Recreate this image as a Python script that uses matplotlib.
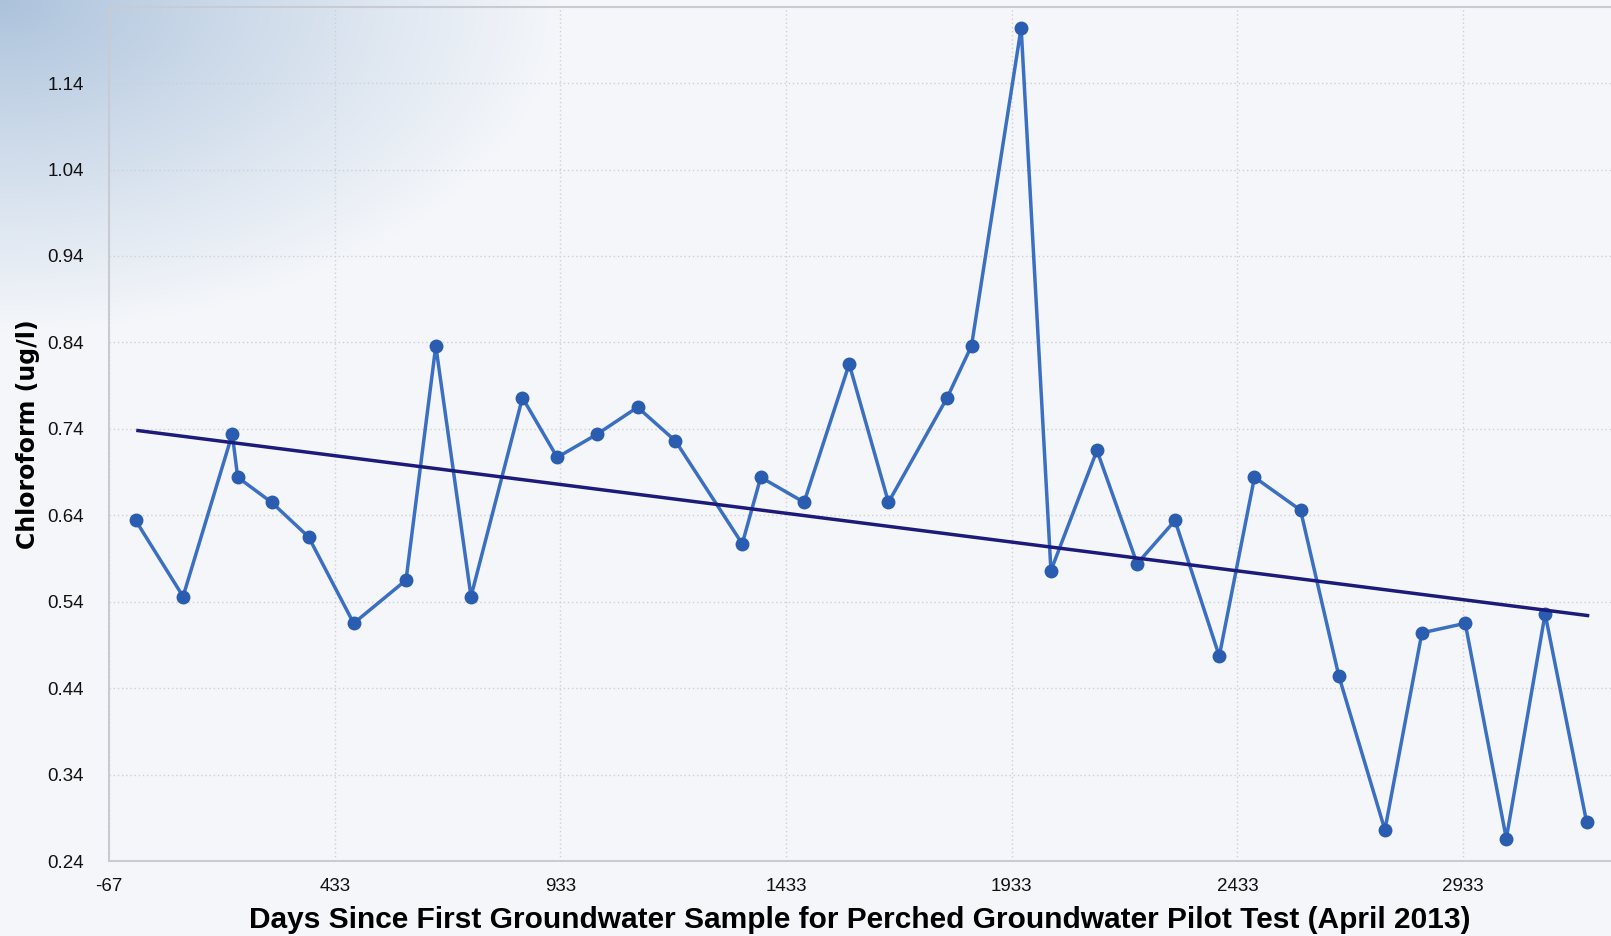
import numpy as np
import matplotlib
matplotlib.use("Agg")
import matplotlib.pyplot as plt

# days since first sample, chloroform concentration (ug/l)
days = [-8, 97, 206, 218, 293, 375, 475, 591, 657, 735, 849, 926, 1015, 1104,
        1188, 1336, 1377, 1473, 1573, 1660, 1790, 1844, 1954, 2020, 2122, 2211,
        2295, 2393, 2471, 2573, 2658, 2760, 2842, 2938, 3029, 3115, 3207]
chloroform = [0.634, 0.546, 0.734, 0.684, 0.655, 0.615, 0.515, 0.565, 0.836,
              0.546, 0.776, 0.707, 0.734, 0.765, 0.726, 0.607, 0.684, 0.655,
              0.815, 0.655, 0.776, 0.836, 1.204, 0.576, 0.715, 0.584, 0.634,
              0.477, 0.684, 0.646, 0.454, 0.276, 0.504, 0.515, 0.266, 0.526,
              0.285]
trend_days = [-3, 3209]
trend_vals = [0.738, 0.524]
xticks = [-67, 433, 933, 1433, 1933, 2433, 2933]
yticks = [0.24, 0.34, 0.44, 0.54, 0.64, 0.74, 0.84, 0.94, 1.04, 1.14]

W, H = 1611, 936
fig = plt.figure(figsize=(W / 100, H / 100), dpi=100)

# background with bluish corner gradient
bg = fig.add_axes([0, 0, 1, 1])
yy, xx = np.mgrid[0:H, 0:W]
d = np.sqrt((xx / 560.0) ** 2 + (yy / 330.0) ** 2)
t = np.clip(d, 0, 1) ** 0.9
c0 = np.array([0.67, 0.76, 0.86])
c1 = np.array([0.957, 0.965, 0.98])
img = c0[None, None, :] * (1 - t[..., None]) + c1[None, None, :] * t[..., None]
bg.imshow(img, aspect="auto", extent=[0, 1, 0, 1], origin="upper")
bg.axis("off")

ax = fig.add_axes([0.0677, 0.0801, 0.9323, 0.9124])
ax.patch.set_alpha(0)
ax.set_xlim(-67, 3261)
ax.set_ylim(0.24, 1.228)

ax.grid(True, color="#cdd0d5", linestyle=(0, (1, 2)), linewidth=1)
ax.set_axisbelow(True)

ax.plot(days, chloroform, color="#3a6fc2", linewidth=2.5, marker="o",
        markersize=9, markerfacecolor="#2a5db0", markeredgecolor="#2a5db0",
        zorder=3)
ax.plot(trend_days, trend_vals, color="#1c1a7a", linewidth=2.5, zorder=4)

ax.set_xticks(xticks)
ax.set_xticklabels([str(v) for v in xticks])
ax.set_yticks(yticks)
ax.set_yticklabels(["%.2f" % v for v in yticks])
ax.tick_params(axis="both", length=0, labelsize=13.5, colors="#111111")
ax.tick_params(axis="y", pad=18)
ax.tick_params(axis="x", pad=12)
for lab in ax.get_xticklabels() + ax.get_yticklabels():
    lab.set_family("Liberation Sans")

for s in ["left", "bottom", "top"]:
    ax.spines[s].set_color("#c8ccd2")
    ax.spines[s].set_linewidth(1.5)
ax.spines["right"].set_visible(False)

ax.set_xlabel("Days Since First Groundwater Sample for Perched Groundwater Pilot Test (April 2013)",
              fontsize=21.5, fontweight="bold", family="Liberation Sans", labelpad=8)
ax.set_ylabel("Chloroform (ug/l)", fontsize=17, fontweight="bold",
              family="DejaVu Sans", labelpad=5)

fig.savefig("out.png", dpi=100)
